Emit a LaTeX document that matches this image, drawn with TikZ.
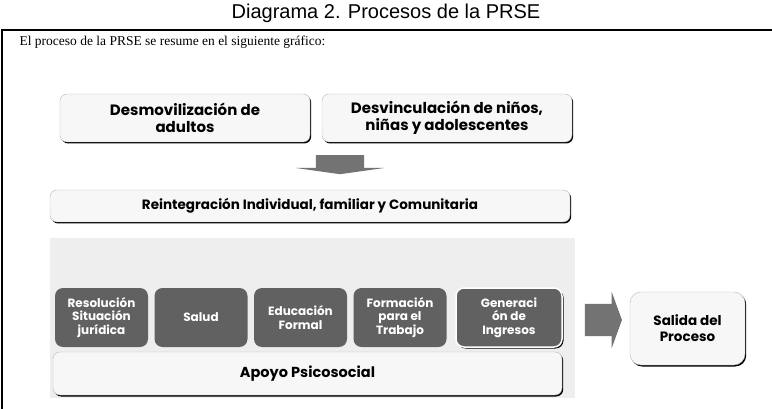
\documentclass[tikz,border=0pt]{standalone}
\usepackage{fontspec}
\setmainfont{Liberation Serif}
\newfontfamily\gothic{Poppins}
\newfontfamily\arialfont{Liberation Sans}
\usetikzlibrary{shapes.arrows,shadows}

\begin{document}
\begin{tikzpicture}[x=1pt,y=-1pt,
    lightbox/.style={rectangle,rounded corners=7pt,draw=gray!55,fill=gray!6,
      align=center,inner sep=2pt,font=\gothic\bfseries\fontsize{15}{17}\selectfont,
      drop shadow={shadow xshift=1.2pt,shadow yshift=-1.5pt,fill=black,opacity=1}},
    darkbox/.style={rectangle,rounded corners=8pt,fill=black!62,text=white,
      align=center,inner sep=1pt,minimum width=93pt,minimum height=59pt,
      font=\gothic\bfseries\fontsize{12}{13.5}\selectfont},
    blockarrow/.style={single arrow,fill=black!55,inner xsep=0pt,
      single arrow head indent=0pt}]
  \useasboundingbox (0,0) rectangle (772,409);
  % title and frame
  \node[font=\arialfont\fontsize{20}{24}\selectfont] (title) at (386,13) {Diagrama 2. Procesos de la PRSE};
  \draw[line width=1.6pt] (2,409) -- (2,30) -- (772,30);
  \node[anchor=west,font=\fontsize{13.5}{16}\selectfont] (intro) at (16,42)
    {El proceso de la PRSE se resume en el siguiente gráfico:};
  % top boxes
  \node[lightbox,minimum width=250pt,minimum height=48pt] (desm) at (185,118)
    {Desmovilización de\\adultos};
  \node[lightbox,minimum width=250pt,minimum height=48pt] (desv) at (447,118)
    {Desvinculación de niños,\\niñas y adolescentes};
  \node[blockarrow,rotate=-90,minimum height=19pt,inner ysep=24pt,
    single arrow head extend=20pt,single arrow tip angle=164] (down) at (340,163) {};
  \node[lightbox,minimum width=520pt,minimum height=32pt,
    font=\gothic\bfseries\fontsize{13.5}{15}\selectfont] (reint) at (310,206)
    {Reintegración Individual, familiar y Comunitaria};
  % panel with the components
  \fill[gray!13] (50,238) rectangle (575,398);
  \foreach \i/\name/\txt in {0/resol/{Resolución\\Situación\\jurídica},
      1/salud/{Salud},2/educ/{Educación\\Formal},3/form/{Formación\\para el\\Trabajo}} {
    \node[darkbox] (\name) at (101.5+99.5*\i,317.5) {\txt};
  }
  \node[darkbox,minimum width=106pt,draw=white,line width=1.5pt,
    drop shadow={shadow xshift=1.5pt,shadow yshift=-1.5pt,fill=black,opacity=1}]
    (gener) at (509,317.5) {Generaci\\ón de\\Ingresos};
  \node[lightbox,minimum width=509pt,minimum height=43pt,
    font=\gothic\bfseries\fontsize{14.5}{16}\selectfont] (apoyo) at (307.5,373.5)
    {Apoyo Psicosocial};
  % exit
  \node[blockarrow,minimum height=37pt,inner ysep=16pt,
    single arrow head extend=12pt,single arrow tip angle=140] (right) at (600.5,320) {};
  \node[lightbox,minimum width=115pt,minimum height=73pt,rounded corners=11pt,
    font=\gothic\bfseries\fontsize{13.5}{16}\selectfont] (salida) at (687.5,328.5)
    {Salida del\\Proceso};
\end{tikzpicture}
\end{document}
